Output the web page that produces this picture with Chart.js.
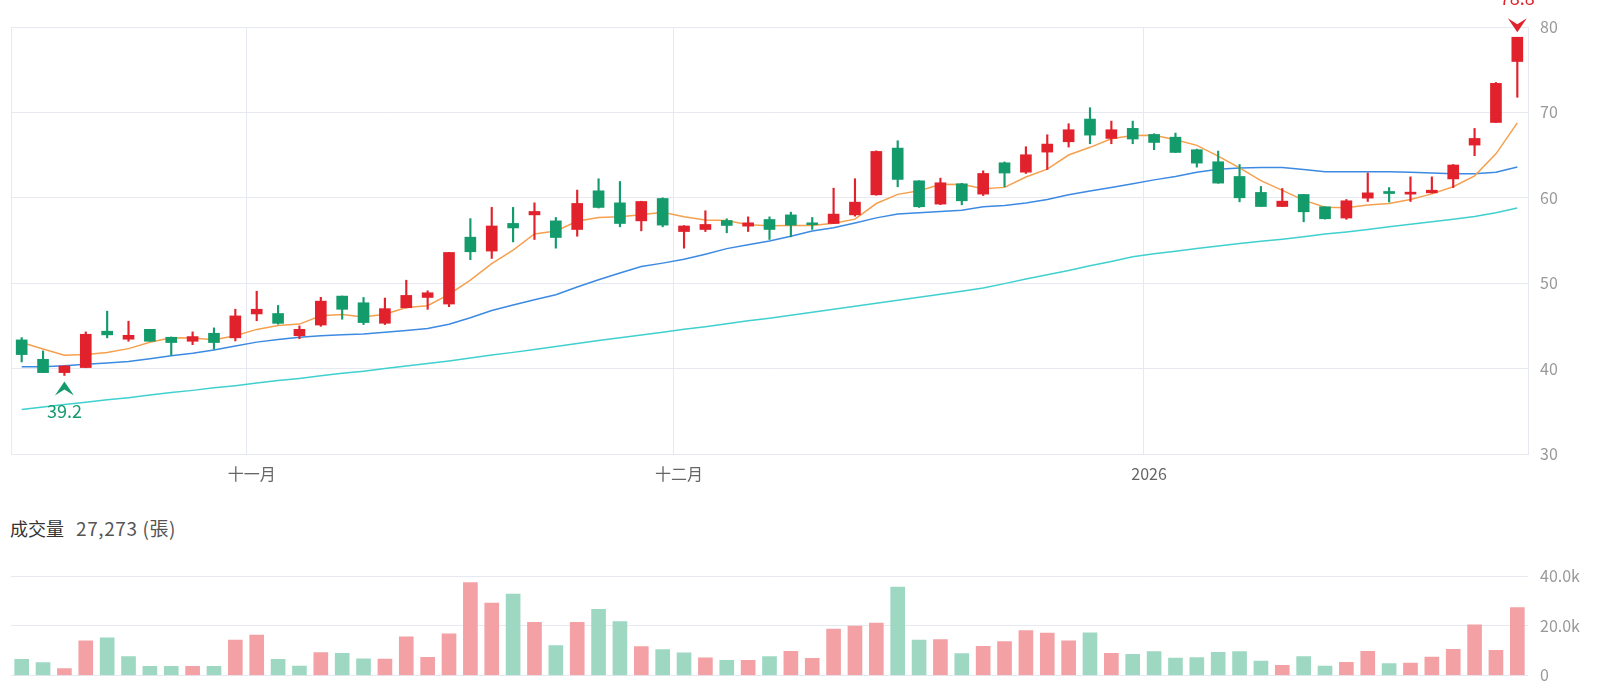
<!DOCTYPE html>
<html>
<head>
<meta charset="utf-8">
<script src="https://cdn.jsdelivr.net/npm/chart.js@4.4.0/dist/chart.umd.min.js"></script>
<style>
  html, body { margin: 0; padding: 0; background: #fff; }
  #wrap { position: relative; width: 1600px; height: 697px; overflow: hidden; }
  #price { position: absolute; left: 0; top: 0; }
  #volume { position: absolute; left: 0; top: 545px; }
  #volTitle {
    position: absolute; left: 10px; top: 514px;
    font: 18px 'Noto Sans CJK TC', sans-serif; color: #333; white-space: pre;
  }
  #volTitle span { color: #555; margin-left: 12px; font-size: 19px; letter-spacing: 0.6px; }
</style>
</head>
<body>
<div id="wrap">
  <canvas id="price" width="1600" height="500"></canvas>
  <div id="volTitle">成交量<span id="volValue"></span></div>
  <canvas id="volume" width="1600" height="152"></canvas>
</div>
<script>
// trading days, Oct 2025 - Jan 2026
const dates = [
  '2025-10-16','2025-10-17','2025-10-20','2025-10-21','2025-10-22','2025-10-23','2025-10-27','2025-10-28','2025-10-29','2025-10-30','2025-10-31',
  '2025-11-03','2025-11-04','2025-11-05','2025-11-06','2025-11-07','2025-11-10','2025-11-11','2025-11-12','2025-11-13','2025-11-14',
  '2025-11-17','2025-11-18','2025-11-19','2025-11-20','2025-11-21','2025-11-24','2025-11-25','2025-11-26','2025-11-27','2025-11-28',
  '2025-12-01','2025-12-02','2025-12-03','2025-12-04','2025-12-05','2025-12-08','2025-12-09','2025-12-10','2025-12-11','2025-12-12',
  '2025-12-15','2025-12-16','2025-12-17','2025-12-18','2025-12-19','2025-12-22','2025-12-23','2025-12-24','2025-12-26','2025-12-29',
  '2025-12-30','2025-12-31',
  '2026-01-02','2026-01-05','2026-01-06','2026-01-07','2026-01-08','2026-01-09','2026-01-12','2026-01-13','2026-01-14','2026-01-15',
  '2026-01-16','2026-01-19','2026-01-20','2026-01-21','2026-01-22','2026-01-23','2026-01-26','2026-01-27'
];
const monthNames = ['一月','二月','三月','四月','五月','六月','七月','八月','九月','十月','十一月','十二月'];

const opens = [43.36,41.09,39.53,40.12,44.38,43.44,44.6,43.67,43.2,44.14,43.6,46.4,46.45,43.85,45.1,48.49,47.71,45.31,47.13,48.33,
  47.56,55.39,53.76,57.0,58.0,57.3,56.29,60.82,59.41,57.3,59.92,56.05,56.29,57.34,56.68,57.46,58.0,57.07,56.99,58.0,
  60.35,65.82,61.99,59.26,61.64,60.43,64.1,63.0,65.35,66.56,69.22,66.95,68.13,67.42,67.1,65.63,64.22,62.5,60.63,58.98,
  60.39,58.95,57.63,59.96,60.74,60.43,60.58,62.21,66.17,68.82,75.96];
const highs = [43.63,42.07,40.35,44.3,46.72,45.55,44.6,43.7,44.3,44.77,46.95,49.06,47.4,45.0,48.35,48.5,48.33,48.26,50.35,49.11,
  53.6,57.56,58.88,58.88,59.41,57.7,60.9,62.23,61.91,59.6,60.0,56.75,58.48,57.54,57.77,57.77,58.32,57.7,61.13,62.23,
  65.5,66.68,62.0,62.3,61.7,63.16,64.2,65.98,67.38,68.67,70.55,68.98,68.98,67.5,67.58,65.7,65.47,63.9,61.33,61.09,
  60.4,58.95,59.8,62.91,61.2,62.45,62.45,63.9,68.12,73.5,78.8];
const lows = [40.78,39.53,39.2,40.1,43.6,43.2,43.2,41.56,42.8,42.27,43.24,45.6,45.2,43.5,44.95,45.78,45.16,45.16,47.1,46.94,
  47.25,52.75,52.9,54.84,55.12,54.1,55.5,58.8,56.6,56.13,56.6,54.1,56.05,55.9,56.05,55.12,55.43,56.3,56.99,57.85,
  60.3,61.29,58.87,59.2,59.18,60.27,61.29,62.85,63.32,65.94,66.33,66.33,66.33,65.63,65.3,63.59,61.7,59.53,58.98,58.98,
  57.19,57.5,57.48,59.57,59.5,59.57,60.55,61.2,64.93,68.8,71.77];
const closes = [41.64,39.53,40.31,44.02,43.95,43.9,43.2,43.05,43.75,43.05,46.17,46.95,45.3,44.6,47.9,46.94,45.39,47.02,48.57,48.88,
  53.6,53.68,56.7,56.47,58.4,55.35,59.34,58.87,56.99,59.57,56.8,56.7,56.88,56.76,57.07,56.29,56.8,56.85,58.09,59.49,
  65.43,62.15,58.95,61.76,59.65,62.85,62.9,65.04,66.29,67.97,67.34,67.97,66.88,66.48,65.31,64.06,61.72,60.0,58.98,59.61,
  58.36,57.55,59.65,60.58,60.5,60.66,60.89,63.84,66.95,73.4,78.8];

const ma5 = [43.05,42.3,41.56,41.64,41.89,42.34,43.08,43.62,43.57,43.39,43.84,44.59,45.04,45.21,46.18,46.34,46.03,46.37,47.16,47.36,
  48.69,50.35,52.29,53.87,55.77,56.12,57.25,57.69,57.79,58.02,58.31,57.79,57.39,57.34,56.84,56.74,56.76,56.75,57.02,57.5,
  59.33,60.4,60.82,61.56,61.59,61.07,61.22,62.44,63.35,65.01,65.91,66.92,67.29,67.33,66.8,66.14,64.89,63.51,62.01,60.87,
  59.73,58.9,58.83,59.15,59.33,59.79,60.46,61.29,62.57,65.15,68.78];
const ma20 = [40.22,40.23,40.33,40.5,40.65,40.82,41.15,41.5,41.8,42.18,42.65,43.1,43.4,43.67,43.86,43.97,44.06,44.25,44.45,44.7,
  45.2,45.95,46.8,47.45,48.05,48.65,49.55,50.4,51.2,51.95,52.35,52.8,53.4,54.05,54.5,54.95,55.5,56.1,56.5,57.05,
  57.65,58.1,58.25,58.4,58.55,58.95,59.1,59.4,59.8,60.35,60.8,61.2,61.65,62.1,62.5,63.0,63.35,63.5,63.55,63.55,
  63.3,63.05,63.05,63.05,63.05,63.0,62.9,62.83,62.83,63.0,63.6];
const ma60 = [35.2,35.5,35.8,36.05,36.35,36.6,36.9,37.2,37.45,37.75,38.0,38.3,38.6,38.85,39.15,39.45,39.7,40.0,40.3,40.6,
  40.9,41.25,41.6,41.9,42.25,42.6,42.95,43.3,43.6,43.93,44.25,44.6,44.9,45.25,45.6,45.9,46.25,46.6,46.95,47.3,
  47.65,48.0,48.35,48.7,49.05,49.45,49.95,50.5,51.0,51.5,52.05,52.55,53.1,53.45,53.75,54.05,54.35,54.65,54.9,55.15,
  55.45,55.75,56.0,56.3,56.6,56.9,57.2,57.5,57.8,58.25,58.8];

const volumes = [6500,5200,2700,13900,15100,7600,3600,3600,3600,3600,14200,16200,6500,3800,9200,8900,6700,6600,15500,7300,
  16700,37400,29100,32700,21400,12000,21400,26600,21700,11600,10400,9100,7100,6100,6100,7600,9700,6900,18600,19800,
  21100,35500,14200,14400,8800,11700,13600,18000,17000,13900,17100,8900,8500,9600,7000,7200,9300,9600,5800,4100,
  7600,3800,5300,9700,4800,5000,7400,10500,20300,10100,27273];

const UP = '#e1222c', DOWN = '#149b6c';
const UP_VOL = '#f3a1a5', DOWN_VOL = '#9ed8c3';
const GRID = '#e6e9f2';

const candleColors = closes.map((c, i) => c >= opens[i] ? UP : DOWN);
const volColors = closes.map((c, i) => (i === 0 ? c >= opens[i] : c >= closes[i - 1]) ? UP_VOL : DOWN_VOL);

// label the first trading day of each month
const xTickLabels = dates.map((d, i) => {
  if (i === 0 || d.slice(5, 7) === dates[i - 1].slice(5, 7)) return '';
  const m = +d.slice(5, 7);
  return m === 1 ? d.slice(0, 4) : monthNames[m - 1];
});

function arrow(ctx, x, tipY, dir, color) {
  // dir = 1 points down, -1 points up
  ctx.beginPath();
  ctx.moveTo(x, tipY);
  ctx.lineTo(x + 9.5, tipY - dir * 14);
  ctx.lineTo(x, tipY - dir * 8);
  ctx.lineTo(x - 9.5, tipY - dir * 14);
  ctx.closePath();
  ctx.fillStyle = color;
  ctx.fill();
}

const extremaMarks = {
  id: 'extremaMarks',
  afterDatasetsDraw(chart) {
    const { ctx, scales: { x, y } } = chart;
    const hi = Math.max(...highs), hiIdx = highs.indexOf(hi);
    const lo = Math.min(...lows), loIdx = lows.indexOf(lo);
    ctx.save();
    ctx.font = "18px 'Noto Sans CJK TC', sans-serif";
    ctx.textAlign = 'center';
    ctx.textBaseline = 'alphabetic';

    let px = x.getPixelForValue(hiIdx), py = y.getPixelForValue(hi);
    arrow(ctx, px, py - 5, 1, UP);
    ctx.fillStyle = UP;
    ctx.fillText(hi.toFixed(1), px, py - 32);

    px = x.getPixelForValue(loIdx); py = y.getPixelForValue(lo);
    arrow(ctx, px, py + 6, -1, DOWN);
    ctx.fillStyle = DOWN;
    ctx.fillText(lo.toFixed(1), px, py + 43);
    ctx.restore();
  }
};

Chart.defaults.font.family = "'Noto Sans CJK TC', sans-serif";
Chart.defaults.animation = false;

new Chart(document.getElementById('price'), {
  type: 'bar',
  data: {
    labels: dates,
    datasets: [
      { type: 'bar', data: opens.map((o, i) => [o, closes[i]]), backgroundColor: candleColors,
        barThickness: 11, minBarLength: 1.5, grouped: false, order: 0 },
      { type: 'bar', data: lows.map((l, i) => [l, highs[i]]), backgroundColor: candleColors,
        barThickness: 1.5, grouped: false, order: 1 },
      { type: 'line', data: ma5, borderColor: '#f5a04e', borderWidth: 1.5, pointRadius: 0, order: 2 },
      { type: 'line', data: ma20, borderColor: '#3c8ae2', borderWidth: 1.5, pointRadius: 0, order: 3 },
      { type: 'line', data: ma60, borderColor: '#3fd0cf', borderWidth: 1.5, pointRadius: 0, order: 4 }
    ]
  },
  options: {
    responsive: false,
    events: [],
    layout: { padding: { left: 11, top: 27, right: 0, bottom: 0 } },
    plugins: { legend: { display: false }, tooltip: { enabled: false } },
    scales: {
      x: {
        offset: true,
        grid: {
          offset: true, drawTicks: false,
          color: c => (c.type !== 'tick' || c.index === 0 || xTickLabels[c.index]) ? GRID : 'rgba(0,0,0,0)'
        },
        border: { color: GRID },
        ticks: {
          autoSkip: false, maxRotation: 0, padding: 10, labelOffset: -5,
          color: '#666', font: { size: 16 },
          callback: (v, i) => xTickLabels[i]
        },
        afterFit: s => { s.height = 46; }
      },
      y: {
        position: 'right', min: 30, max: 80,
        ticks: { stepSize: 10, padding: 12, color: '#999', font: { size: 16 } },
        grid: { color: GRID, drawTicks: false },
        border: { color: GRID },
        afterFit: s => { s.width = 72; }
      }
    }
  },
  plugins: [extremaMarks]
});

document.getElementById('volValue').textContent =
  volumes[volumes.length - 1].toLocaleString('en-US') + ' (張)';

new Chart(document.getElementById('volume'), {
  type: 'bar',
  data: {
    labels: dates,
    datasets: [{ data: volumes, backgroundColor: volColors, barThickness: 14 }]
  },
  options: {
    responsive: false,
    events: [],
    layout: { padding: { left: 11, top: 31, right: 0, bottom: 18 } },
    plugins: { legend: { display: false }, tooltip: { enabled: false } },
    scales: {
      x: { display: false, offset: true },
      y: {
        position: 'right', min: 0, max: 40000,
        ticks: {
          stepSize: 20000, padding: 12, color: '#999', font: { size: 16 },
          callback: v => v === 0 ? '0' : (v / 1000).toFixed(1) + 'k'
        },
        grid: { color: GRID, drawTicks: false },
        border: { display: false },
        afterFit: s => { s.width = 72; }
      }
    }
  }
});
</script>
</body>
</html>
